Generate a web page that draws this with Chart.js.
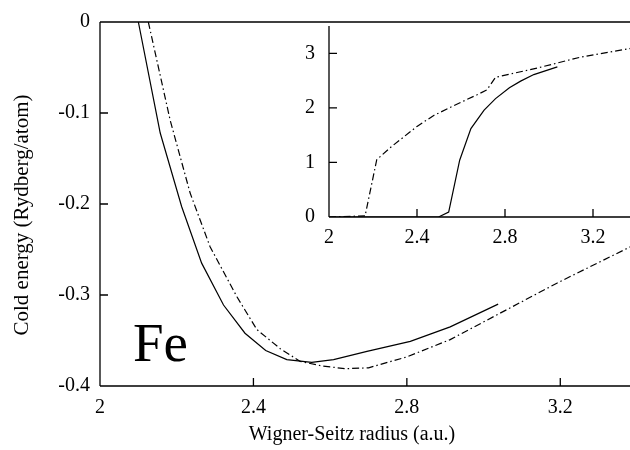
<!DOCTYPE html>
<html>
<head>
<meta charset="utf-8">
<script src="https://cdn.jsdelivr.net/npm/chart.js@4.4.0/dist/chart.umd.min.js"></script>
<style>
  html, body { margin: 0; padding: 0; background: #fff; overflow: hidden; }
  #wrap { position: relative; width: 630px; height: 450px; overflow: hidden; }
  #mainChart { position: absolute; left: 0; top: 0; }
  #insetChart { position: absolute; left: 299px; top: 0; }
</style>
</head>
<body>
<div id="wrap">
  <canvas id="mainChart" width="637" height="450"></canvas>
  <canvas id="insetChart" width="338" height="252"></canvas>
</div>
<script>
// main panel: cold energy vs Wigner-Seitz radius
const mainSolidX = [2.100, 2.157, 2.213, 2.265, 2.322, 2.378, 2.432, 2.487, 2.552, 2.609, 2.696, 2.809, 2.913, 3.038];
const mainSolidY = [0, -0.122, -0.203, -0.265, -0.311, -0.342, -0.361, -0.371, -0.374, -0.371, -0.362, -0.351, -0.335, -0.310];
const mainDashX = [2.126, 2.183, 2.235, 2.287, 2.357, 2.409, 2.470, 2.522, 2.580, 2.640, 2.700, 2.800, 2.913, 3.061, 3.191, 3.383, 3.40];
const mainDashY = [0, -0.108, -0.188, -0.247, -0.302, -0.338, -0.359, -0.373, -0.378, -0.381, -0.380, -0.368, -0.349, -0.316, -0.287, -0.247, -0.243];

// inset panel
const insetSolidX = [2.0, 2.498, 2.544, 2.594, 2.645, 2.705, 2.757, 2.820, 2.871, 2.931, 3.038];
const insetSolidY = [0, 0, 0.09, 1.04, 1.62, 1.96, 2.17, 2.37, 2.49, 2.61, 2.75];
const insetDashX = [2.0, 2.164, 2.217, 2.278, 2.400, 2.476, 2.567, 2.673, 2.718, 2.757, 2.947, 3.144, 3.372, 3.40];
const insetDashY = [0, 0.02, 1.05, 1.27, 1.66, 1.86, 2.04, 2.24, 2.33, 2.56, 2.73, 2.93, 3.09, 3.10];

const xTitle = 'Wigner-Seitz radius (a.u.)';
const yTitle = 'Cold energy (Rydberg/atom)';
const elementLabel = 'Fe';

const serif = "'Liberation Serif', 'Times New Roman', serif";
const dashDot = [7, 3, 1.5, 3];

function toPoints(xs, ys) {
  return xs.map((x, i) => ({ x: x, y: ys[i] }));
}

function fmt(v) {
  return String(Number(v.toFixed(1)));
}

// frame lines and inward tick marks
const frameTicks = {
  id: 'frameTicks',
  afterDraw(chart, args, opts) {
    const ctx = chart.ctx;
    const a = chart.chartArea;
    const len = 8;
    ctx.save();
    ctx.strokeStyle = '#000';
    ctx.lineWidth = 1.3;
    ctx.beginPath();
    ctx.moveTo(a.left, a.bottom);
    ctx.lineTo(a.right, a.bottom);
    ctx.moveTo(a.left, a.bottom);
    ctx.lineTo(a.left, a.top);
    if (opts.top) {
      ctx.moveTo(a.left, a.top);
      ctx.lineTo(a.right, a.top);
    }
    chart.scales.x.ticks.forEach(t => {
      const px = chart.scales.x.getPixelForValue(t.value);
      ctx.moveTo(px, a.bottom);
      ctx.lineTo(px, a.bottom - len);
    });
    chart.scales.y.ticks.forEach(t => {
      const py = chart.scales.y.getPixelForValue(t.value);
      ctx.moveTo(a.left, py);
      ctx.lineTo(a.left + len, py);
    });
    ctx.stroke();
    ctx.restore();
  }
};

// axis titles and element label for main panel
const mainText = {
  id: 'mainText',
  afterDraw(chart) {
    const ctx = chart.ctx;
    ctx.save();
    ctx.fillStyle = '#000';
    ctx.textAlign = 'center';
    ctx.textBaseline = 'middle';
    ctx.font = '20px ' + serif;
    ctx.fillText(xTitle, 352, 435);
    ctx.translate(22, 215);
    ctx.rotate(-Math.PI / 2);
    ctx.font = '21px ' + serif;
    ctx.fillText(yTitle, 0, 0);
    ctx.restore();
    ctx.save();
    ctx.fillStyle = '#000';
    ctx.font = '55px ' + serif;
    ctx.textAlign = 'left';
    ctx.textBaseline = 'alphabetic';
    ctx.fillText(elementLabel, 133, 361);
    ctx.restore();
  }
};

function lineSet(points, dashed) {
  return {
    data: points,
    borderColor: '#000',
    borderWidth: 1.2,
    borderDash: dashed ? dashDot : [],
    pointRadius: 0,
    tension: 0,
    fill: false
  };
}

function axis(min, max, step, pad, fitKey, fitVal) {
  return {
    type: 'linear',
    min: min,
    max: max,
    grid: { display: false, drawTicks: false, tickLength: 0 },
    border: { display: false },
    ticks: {
      stepSize: step,
      includeBounds: false,
      padding: pad,
      color: '#000',
      font: { family: serif, size: 20 },
      callback: v => fmt(v)
    },
    afterFit(scale) { scale[fitKey] = fitVal; }
  };
}

new Chart(document.getElementById('mainChart'), {
  type: 'line',
  data: {
    datasets: [
      lineSet(toPoints(mainSolidX, mainSolidY), false),
      lineSet(toPoints(mainDashX, mainDashY), true)
    ]
  },
  options: {
    responsive: false,
    animation: false,
    devicePixelRatio: 1,
    layout: { padding: { top: 22, right: 0, bottom: 0, left: 0 } },
    plugins: { legend: { display: false }, tooltip: { enabled: false }, frameTicks: { top: true } },
    scales: {
      x: axis(2, 3.4, 0.4, 10, 'height', 64),
      y: axis(-0.4, 0, 0.1, 10, 'width', 100)
    }
  },
  plugins: [frameTicks, mainText]
});

new Chart(document.getElementById('insetChart'), {
  type: 'line',
  data: {
    datasets: [
      lineSet(toPoints(insetSolidX, insetSolidY), false),
      lineSet(toPoints(insetDashX, insetDashY), true)
    ]
  },
  options: {
    responsive: false,
    animation: false,
    devicePixelRatio: 1,
    layout: { padding: { top: 22, right: 0, bottom: 0, left: 0 } },
    plugins: { legend: { display: false }, tooltip: { enabled: false }, frameTicks: { top: false } },
    scales: {
      x: axis(2, 3.4, 0.4, 9, 'height', 35),
      y: axis(0, 3.5, 1, 14, 'width', 30)
    }
  },
  plugins: [frameTicks]
});
</script>
</body>
</html>
